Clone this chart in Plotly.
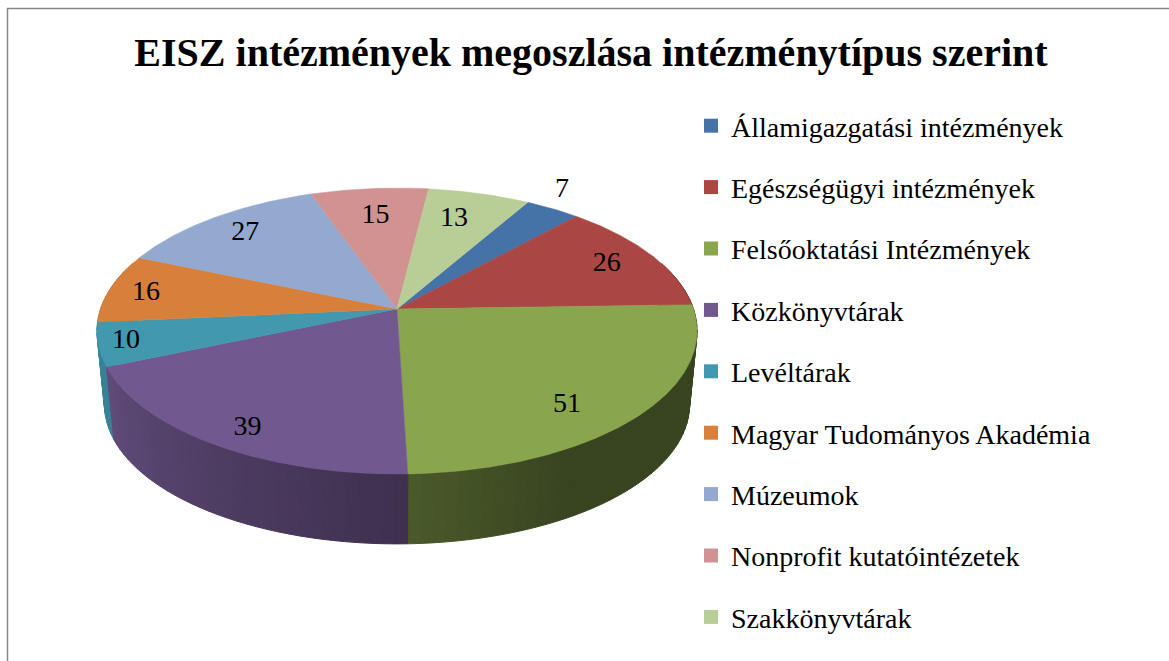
import numpy as np
import plotly.graph_objects as go

title = "EISZ intézmények megoszlása intézménytípus szerint"
categories = ["Államigazgatási intézmények", "Egészségügyi intézmények", "Felsőoktatási Intézmények",
              "Közkönyvtárak", "Levéltárak", "Magyar Tudományos Akadémia", "Múzeumok",
              "Nonprofit kutatóintézetek", "Szakkönyvtárak"]
values = [7, 26, 51, 39, 10, 16, 27, 15, 13]
colors = ["#4573a7", "#aa4643", "#89a54e", "#71588f", "#4198af", "#d6803c", "#93a9cf", "#d19392", "#b9cd96"]
# label placement: radial fraction and small angular nudge per slice
label_r = [1.17, .82, .81, .875, .91, .87, .815, .75, .75]
label_turn = [-3, 0, 7, -2, 0, -1, 0, 0, -2]

# projection of the tilted disc onto the page (pixel-scaled axes)
CX, CY, RX, RY, P = 397, 309, 296.5, 139.6, 0.154
DROP, SHRINK = 74, 0.975
START = 30


def proj(theta_deg, r=1.0, bottom=False):
    t = np.radians(theta_deg)
    u, v = r * np.sin(t), -r * np.cos(t)
    w = 1 - P * v
    x, y = RX * u / w, RY * v / w
    if bottom:
        return CX + x * SHRINK, CY + DROP + y * SHRINK
    return CX + x, CY + y


def shade(theta_deg):
    return float(np.interp(theta_deg, [60, 150, 180, 247, 300], [.41, .41, .55, .85, .9]))


def scaled(hex_color, k):
    c = [int(hex_color[i:i + 2], 16) for i in (1, 3, 5)]
    return "rgb(%d,%d,%d)" % tuple(round(k * a) for a in c)


total = sum(values)
edges = START + np.cumsum([0] + values) / total * 360
fig = go.Figure()

# side wall, painted strip by strip from the slice extents, far strips first
strips = []
for i in range(len(values)):
    a0, a1 = edges[i], edges[i + 1]
    lo, hi = max(a0, 70), min(a1, 290)
    if hi <= lo:
        continue
    n = max(1, int((hi - lo) / 2))
    grid = np.linspace(lo, hi, n + 1)
    for s0, s1 in zip(grid[:-1], grid[1:]):
        strips.append((s0, s1, i))
strips.sort(key=lambda s: -np.cos(np.radians((s[0] + s[1]) / 2)))
for s0, s1, i in strips:
    ts = np.array([s0, (s0 + s1) / 2, s1])
    tx, ty = proj(ts)
    bx, by = proj(ts, bottom=True)
    fill = scaled(colors[i], shade((s0 + s1) / 2))
    fig.add_trace(go.Scatter(x=list(tx) + list(bx[::-1]) + [tx[0]], y=list(ty) + list(by[::-1]) + [ty[0]],
                             mode="lines", fill="toself", fillcolor=fill, line=dict(width=1, color=fill),
                             hoverinfo="skip", showlegend=False, legendgroup=categories[i]))

# top of the pie
for i, (cat, val) in enumerate(zip(categories, values)):
    arc = np.linspace(edges[i], edges[i + 1], max(3, int(val * 4)))
    ax, ay = proj(arc)
    fig.add_trace(go.Scatter(x=[CX] + list(ax) + [CX], y=[CY] + list(ay) + [CY], mode="lines", fill="toself",
                             fillcolor=colors[i], line=dict(width=0.5, color=colors[i]), name=cat,
                             text=f"{cat}: {val}", hoverinfo="text", showlegend=False, legendgroup=cat))

# data labels
mids = (edges[:-1] + edges[1:]) / 2 + np.array(label_turn)
lx, ly = proj(mids, r=np.array(label_r))
fig.add_trace(go.Scatter(x=lx, y=ly, mode="text", text=[str(v) for v in values], textposition="middle center",
                         textfont=dict(family="Liberation Serif", size=28, color="#000000"),
                         hoverinfo="skip", showlegend=False))

# legend keys
for cat, col in zip(categories, colors):
    fig.add_trace(go.Scatter(x=[None], y=[None], mode="markers", name=cat, legendgroup=cat,
                             marker=dict(symbol="square", size=14, color=col)))

fig.update_layout(
    width=1169, height=661, autosize=False, margin=dict(l=0, r=0, t=0, b=0),
    paper_bgcolor="white", plot_bgcolor="white",
    title=dict(text=f"<b>{title}</b>", x=591 / 1169, xanchor="center", y=1 - 52 / 661, yanchor="middle",
               font=dict(family="Liberation Serif", size=40, color="#000000")),
    xaxis=dict(range=[0, 1169], visible=False, fixedrange=True),
    yaxis=dict(range=[661, 0], visible=False, fixedrange=True),
    legend=dict(x=691 / 1169, xanchor="left", y=1 - 101 / 661, yanchor="top", tracegroupgap=22,
                maxheight=700, bgcolor="rgba(0,0,0,0)",
                font=dict(family="Liberation Serif", size=28, color="#000000")),
    shapes=[dict(type="path", xref="x", yref="y", path="M 7.5 661 L 7.5 8.5 L 1169 8.5",
                 line=dict(color="#868686", width=1.5))],
)
fig.write_html("out.html", config={"displayModeBar": False}, post_script="document.body.style.margin='0';")
